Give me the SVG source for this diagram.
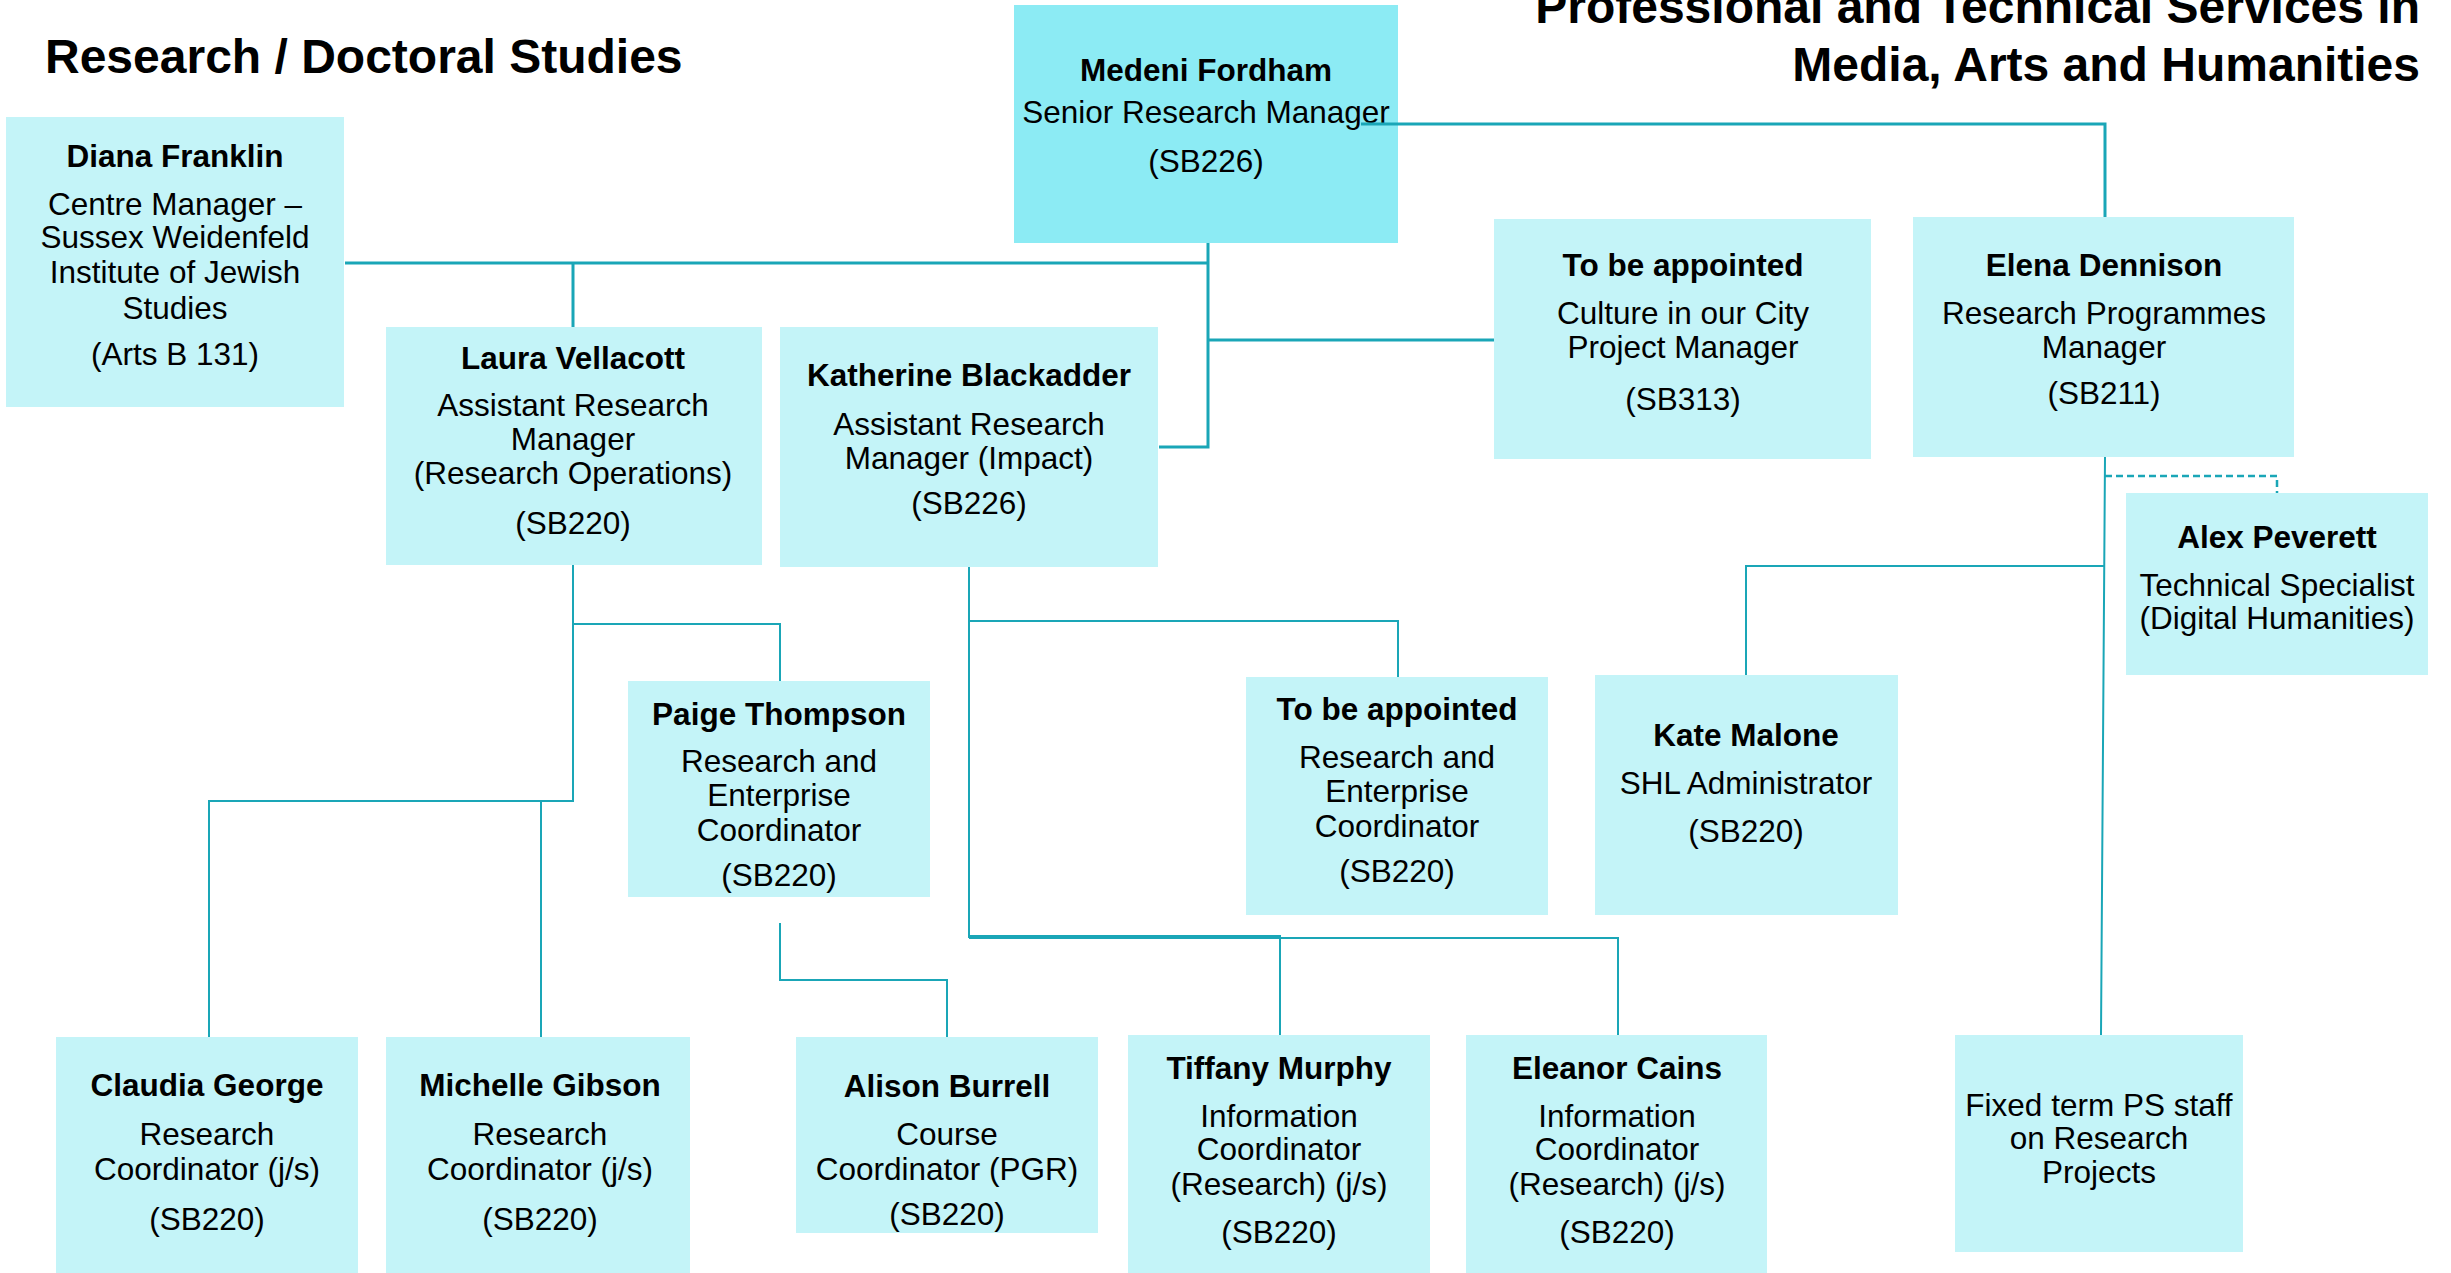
<svg xmlns="http://www.w3.org/2000/svg" width="2451" height="1273" viewBox="0 0 2451 1273">
<style>
.bg{fill:#ffffff}
.box{fill:#C4F4F8}
.top{fill:#8CEBF4}
text{font-family:"Liberation Sans",Arial,sans-serif;fill:#000;text-anchor:middle;font-size:31.5px}
.b{font-weight:bold}
.title{font-weight:bold;font-size:48px}
.ln{stroke:#1AA6B7;stroke-width:3;fill:none}
.ln2{stroke:#1AA6B7;stroke-width:2;fill:none}
.dash{stroke:#1AA6B7;stroke-width:2.5;fill:none;stroke-dasharray:7 4}
</style>
<rect class="bg" x="0" y="0" width="2451" height="1273"/>
<text class="title" x="45" y="73" style="text-anchor:start">Research / Doctoral Studies</text>
<text class="title" x="2420" y="23" style="text-anchor:end">Professional and Technical Services in</text>
<text class="title" x="2420" y="81" style="text-anchor:end">Media, Arts and Humanities</text>

<g id="medeni"><rect class="top" x="1014" y="5" width="384" height="238"/>
<text class="b" x="1206" y="81">Medeni Fordham</text>
<text x="1206" y="123">Senior Research Manager</text>
<text x="1206" y="172">(SB226)</text></g>

<g id="diana"><rect class="box" x="6" y="117" width="338" height="290"/>
<text class="b" x="175" y="167">Diana Franklin</text>
<text x="175" y="215">Centre Manager –</text>
<text x="175" y="248">Sussex Weidenfeld</text>
<text x="175" y="283">Institute of Jewish</text>
<text x="175" y="319">Studies</text>
<text x="175" y="365">(Arts B 131)</text></g>

<g id="laura"><rect class="box" x="386" y="327" width="376" height="238"/>
<text class="b" x="573" y="369">Laura Vellacott</text>
<text x="573" y="416">Assistant Research</text>
<text x="573" y="450">Manager</text>
<text x="573" y="484">(Research Operations)</text>
<text x="573" y="534">(SB220)</text></g>

<g id="katherine"><rect class="box" x="780" y="327" width="378" height="240"/>
<text class="b" x="969" y="386">Katherine Blackadder</text>
<text x="969" y="435">Assistant Research</text>
<text x="969" y="469">Manager (Impact)</text>
<text x="969" y="514">(SB226)</text></g>

<g id="culture"><rect class="box" x="1494" y="219" width="377" height="240"/>
<text class="b" x="1683" y="276">To be appointed</text>
<text x="1683" y="324">Culture in our City</text>
<text x="1683" y="358">Project Manager</text>
<text x="1683" y="410">(SB313)</text></g>

<g id="elena"><rect class="box" x="1913" y="217" width="381" height="240"/>
<text class="b" x="2104" y="276">Elena Dennison</text>
<text x="2104" y="324">Research Programmes</text>
<text x="2104" y="358">Manager</text>
<text x="2104" y="404">(SB211)</text></g>

<g id="alex"><rect class="box" x="2126" y="493" width="302" height="182"/>
<text class="b" x="2277" y="548">Alex Peverett</text>
<text x="2277" y="596">Technical Specialist</text>
<text x="2277" y="629">(Digital Humanities)</text></g>

<g id="paige"><rect class="box" x="628" y="681" width="302" height="216"/>
<text class="b" x="779" y="725">Paige Thompson</text>
<text x="779" y="772">Research and</text>
<text x="779" y="806">Enterprise</text>
<text x="779" y="841">Coordinator</text>
<text x="779" y="886">(SB220)</text></g>

<g id="tba-re"><rect class="box" x="1246" y="677" width="302" height="238"/>
<text class="b" x="1397" y="720">To be appointed</text>
<text x="1397" y="768">Research and</text>
<text x="1397" y="802">Enterprise</text>
<text x="1397" y="837">Coordinator</text>
<text x="1397" y="882">(SB220)</text></g>

<g id="kate"><rect class="box" x="1595" y="675" width="303" height="240"/>
<text class="b" x="1746" y="746">Kate Malone</text>
<text x="1746" y="794">SHL Administrator</text>
<text x="1746" y="842">(SB220)</text></g>

<g id="claudia"><rect class="box" x="56" y="1037" width="302" height="236"/>
<text class="b" x="207" y="1096">Claudia George</text>
<text x="207" y="1145">Research</text>
<text x="207" y="1180">Coordinator (j/s)</text>
<text x="207" y="1230">(SB220)</text></g>

<g id="michelle"><rect class="box" x="386" y="1037" width="304" height="236"/>
<text class="b" x="540" y="1096">Michelle Gibson</text>
<text x="540" y="1145">Research</text>
<text x="540" y="1180">Coordinator (j/s)</text>
<text x="540" y="1230">(SB220)</text></g>

<g id="alison"><rect class="box" x="796" y="1037" width="302" height="196"/>
<text class="b" x="947" y="1097">Alison Burrell</text>
<text x="947" y="1145">Course</text>
<text x="947" y="1180">Coordinator (PGR)</text>
<text x="947" y="1225">(SB220)</text></g>

<g id="tiffany"><rect class="box" x="1128" y="1035" width="302" height="238"/>
<text class="b" x="1279" y="1079">Tiffany Murphy</text>
<text x="1279" y="1127">Information</text>
<text x="1279" y="1160">Coordinator</text>
<text x="1279" y="1195">(Research) (j/s)</text>
<text x="1279" y="1243">(SB220)</text></g>

<g id="eleanor"><rect class="box" x="1466" y="1035" width="301" height="238"/>
<text class="b" x="1617" y="1079">Eleanor Cains</text>
<text x="1617" y="1127">Information</text>
<text x="1617" y="1160">Coordinator</text>
<text x="1617" y="1195">(Research) (j/s)</text>
<text x="1617" y="1243">(SB220)</text></g>

<g id="fixed"><rect class="box" x="1955" y="1035" width="288" height="217"/>
<text x="2099" y="1116">Fixed term PS staff</text>
<text x="2099" y="1149">on Research</text>
<text x="2099" y="1183">Projects</text></g>

<g id="connectors">
<path class="ln" d="M345 263 H1208 M1208 243 V447 H1159 M1208 340 H1494 M573 263 V327"/>
<path class="ln" d="M1361 124 H2105 V217"/>
<path class="ln2" d="M2105 457 L2101 1035 M2104 566 H1746 V675"/>
<path class="dash" d="M2105 476 H2277 V493"/>
<path class="ln2" d="M573 565 V801 H209 V1037 M541 801 V1037 M573 624 H780 V681"/>
<path class="ln2" d="M780 923 V980 H947 V1037"/>
<path class="ln2" d="M969 567 V938 M969 621 H1398 V677 M969 936 H1280 V1035 M969 938 H1618 V1035"/>
</g>
</svg>
